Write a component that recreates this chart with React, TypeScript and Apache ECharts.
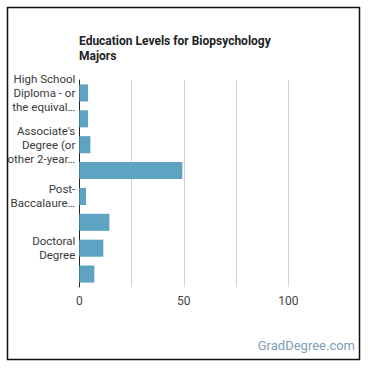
import React, { useEffect, useRef } from "react";
import * as echarts from "echarts";

const categories = [
  "High School Diploma - or the equivalent",
  "Some College Courses",
  "Associate's Degree (or other 2-year degree)",
  "Bachelor's Degree",
  "Post-Baccalaureate Certificate",
  "Master's Degree",
  "Doctoral Degree",
  "Post-Doctoral Training",
];
const tickLabels = [
  "High School\nDiploma - or\nthe equival…",
  "",
  "Associate's\nDegree (or\nother 2-year…",
  "",
  "Post-\nBaccalaure…",
  "",
  "Doctoral\nDegree",
  "",
];
const values = [4.2, 4.2, 5.3, 49.3, 3.2, 14.4, 11.5, 7.2];
const xTicks = [0, 50, 100];

export default function App() {
  const ref = useRef<HTMLDivElement>(null);
  useEffect(() => {
    if (!ref.current) return;
    const chart = echarts.init(ref.current, undefined, { renderer: "svg" });
    const frame = { stroke: "#111", lineWidth: 1.5 };
    chart.setOption({
      animation: false,
      title: {
        text: "Education Levels for Biopsychology\nMajors",
        left: 79,
        top: 33.5,
        padding: 0,
        textStyle: {
          fontFamily: "Roboto",
          fontSize: 12,
          fontWeight: "bold",
          color: "#222",
          lineHeight: 15,
        },
      },
      graphic: [
        { type: "line", silent: true, z: 100, shape: { x1: 7.5, y1: 7, x2: 7.5, y2: 360 }, style: frame },
        { type: "line", silent: true, z: 100, shape: { x1: 7, y1: 7.5, x2: 360, y2: 7.5 }, style: frame },
        { type: "line", silent: true, z: 100, shape: { x1: 359.5, y1: 7, x2: 359.5, y2: 360 }, style: frame },
        { type: "line", silent: true, z: 100, shape: { x1: 7, y1: 359.5, x2: 360, y2: 359.5 }, style: frame },
        {
          type: "text",
          right: 15,
          top: 339,
          style: {
            text: "GradDegree.com",
            fontFamily: "Roboto",
            fontSize: 13,
            fill: "#7d9db6",
          },
        },
      ],
      grid: {
        left: 79.3,
        right: 29.5,
        top: 80,
        bottom: 83,
        containLabel: false,
        outerBoundsMode: "none",
      },
      xAxis: {
        type: "value",
        min: 0,
        max: 125,
        interval: 25,
        axisLine: { show: false },
        axisTick: { show: false },
        axisLabel: {
          fontFamily: "Roboto",
          fontSize: 12,
          color: "#444",
          margin: 8,
          formatter: (v: number) => (xTicks.includes(v) ? String(v) : ""),
        },
        splitLine: {
          show: true,
          showMinLine: false,
          showMaxLine: false,
          lineStyle: { color: "#d3d3d3", width: 1 },
        },
      },
      yAxis: {
        type: "category",
        inverse: true,
        data: categories,
        axisLine: { show: true, lineStyle: { color: "#222", width: 1 } },
        axisTick: { show: false },
        axisLabel: {
          interval: 0,
          fontFamily: "Roboto",
          fontSize: 11.5,
          color: "#3a3a3a",
          lineHeight: 14,
          margin: 4,
          formatter: (_: string, i: number) => tickLabels[i],
        },
      },
      series: [
        {
          type: "bar",
          data: values,
          barCategoryGap: "34%",
          itemStyle: { color: "#5ea3c1" },
        },
      ],
    });
    return () => chart.dispose();
  }, []);
  return (
    <div
      ref={ref}
      style={{ position: "absolute", left: 0, top: 0, width: 370, height: 370 }}
    />
  );
}
